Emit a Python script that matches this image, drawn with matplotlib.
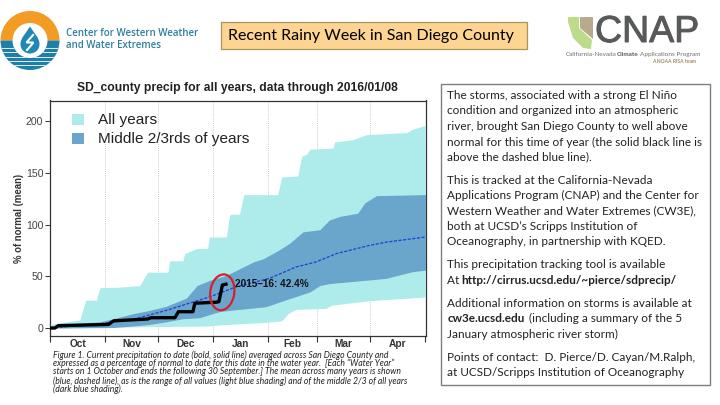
import matplotlib
matplotlib.use("Agg")
import matplotlib.pyplot as plt
import matplotlib.patheffects as pe
import numpy as np
from matplotlib.patches import Ellipse, PathPatch, Polygon, Rectangle, Wedge
from matplotlib.path import Path

# days since 1 October, values in % of normal
all_hi_day = [0, 5.4, 16.7, 20, 26, 28, 39, 50.6, 55, 66.5, 67.6, 75, 76, 83, 89, 90, 99.6, 101.6, 107, 109.6,
              128.7, 131, 140, 142.3, 145, 147, 160, 161, 171, 179, 202, 204.6, 212.4]
all_hi_val = [3.5, 5, 8, 27, 27, 39, 39.5, 41, 54, 54, 65, 65, 72, 77, 77, 88, 88, 110, 110, 129,
              129, 146, 147, 166, 168, 173, 174, 180, 182, 187, 189, 192, 196]
all_lo_day = [0, 56, 90, 96, 122, 131, 134.6, 139, 156, 159, 171, 181, 212.4]
all_lo_val = [0, 1.3, 2, 3, 5.5, 7, 14, 18, 19, 22, 24.5, 26.5, 30]
mid_hi_day = [0, 16.7, 28, 35.6, 47, 56, 65.5, 77, 83, 90, 99.7, 115, 120.5, 129, 135.5, 143, 152.5, 158, 164,
              174, 178, 184.6, 212.4]
mid_hi_val = [0, 4.5, 6, 9, 14, 17, 21, 29, 41, 46, 51, 64, 67, 75, 82, 93, 95, 104.5, 108, 111, 121, 128, 129]
mid_lo_day = [0, 35.6, 47, 56, 65.5, 75, 84.6, 92, 96, 104, 122, 132, 147, 152.5, 158, 171, 190, 205, 212.4]
mid_lo_val = [0, 0.5, 2, 3.5, 6, 9, 10, 14, 16, 17.5, 20.6, 26.5, 35, 41, 43, 45, 48, 54.5, 56]
mean_day = [0, 16.7, 28, 47, 65.5, 90, 105.5, 124, 139, 150.6, 162, 181, 190, 212.4]
mean_val = [0, 2.5, 4, 8.5, 17, 30, 40, 48, 59, 64, 72, 80, 83, 88]
now_day = [0, 2.5, 4.5, 33, 34.5, 36, 55, 57, 70.5, 72.5, 80.7, 81.8, 88, 94, 95.4, 97.4, 99.4]
now_val = [0, 0, 2.3, 3.5, 5.5, 7, 8.7, 10, 10, 15.8, 15.8, 24, 24.5, 25, 25.5, 41.6, 42.4]

month_names = ["Oct", "Nov", "Dec", "Jan", "Feb", "Mar", "Apr"]
month_starts = [0, 31, 61, 92, 123, 151, 181, 212]
y_ticks = [0, 50, 100, 150, 200]

side_lines = [
    (95.3, "The storms, associated with a strong El Niño"),
    (110.7, "condition and organized into an atmospheric"),
    (126.3, "river, brought San Diego County to well above"),
    (142, "normal for this time of year (the solid black line is"),
    (157, "above the dashed blue line)."),
    (180, "This is tracked at the California-Nevada"),
    (195.3, "Applications Program (CNAP) and the Center for"),
    (210.7, "Western Weather and Water Extremes (CW3E),"),
    (226, "both at UCSD’s Scripps Institution of"),
    (241.3, "Oceanography, in partnership with KQED."),
    (265, "This precipitation tracking tool is available"),
    (303.3, "Additional information on storms is available at"),
    (334, "January atmospheric river storm)"),
    (357.3, "Points of contact:  D. Pierce/D. Cayan/M.Ralph,"),
    (372.7, "at UCSD/Scripps Institution of Oceanography"),
]
caption_lines = [
    (355, "Figure 1. Current precipitation to date (bold, solid line) averaged across San Diego County and"),
    (363.5, "expressed as a percentage of normal to date for this date in the water year.  [Each “Water Year”"),
    (372, "starts on 1 October and ends the following 30 September.] The mean across many years is shown"),
    (381, "(blue, dashed line), as is the range of all values (light blue shading) and of the middle 2/3 of all years"),
    (389.5, "(dark blue shading)."),
]

W, H = 720, 405
fig = plt.figure(figsize=(W / 100, H / 100), dpi=100, facecolor="white")
chart_font = "Liberation Sans"
slide_font = "Lato"

# chart axes, placed in pixels
left, right, top, bottom = 49.5, 425.5, 100.5, 336
ax = fig.add_axes([left / W, 1 - bottom / H, (right - left) / W, (bottom - top) / H])

grid_days = np.linspace(0, 212.4, 1500)
light = "#aeecec"
dark = "#6aa5cb"
ax.fill_between(grid_days, np.interp(grid_days, all_lo_day, all_lo_val), np.interp(grid_days, all_hi_day, all_hi_val),
                color=light, lw=0, zorder=1)
ax.fill_between(grid_days, np.interp(grid_days, mid_lo_day, mid_lo_val), np.interp(grid_days, mid_hi_day, mid_hi_val),
                color=dark, lw=0, zorder=1.5)
ax.plot(mean_day, mean_val, color="#1f3fd8", lw=0.9, ls=(0, (2.5, 1.2)), zorder=2)
ax.plot(now_day, now_val, color="black", lw=2.4, solid_joinstyle="round", zorder=3)
ax.text(104.5, 42.5, "2015–16: 42.4%", family=chart_font, fontweight="bold", fontsize=7.2, color="#111111",
        va="center", zorder=4)

for d in month_starts[1:-1]:
    ax.axvline(d, color="#bbbbbb", lw=0.6, ls=(0, (1, 1.5)), zorder=0.5)

ax.set_xlim(-0.5, 212.4)
ax.set_ylim(-7.7, 220)
ax.set_xticks(month_starts)
ax.set_xticklabels([])
ax.set_xticks([(a + b) / 2 for a, b in zip(month_starts[:-1], month_starts[1:])], minor=True)
ax.set_xticklabels(month_names, minor=True, family=chart_font, fontweight="bold", fontsize=7.3, color="#333333")
ax.tick_params(axis="x", which="minor", length=0, pad=2)
ax.tick_params(axis="x", which="major", length=4.5, width=0.8, color="#333333")
ax.set_yticks(y_ticks)
ax.tick_params(axis="y", length=3.5, width=0.7, color="#333333", pad=1, labelsize=7.6, labelcolor="#444444")
for lab in ax.get_yticklabels():
    lab.set_family(chart_font)
for side in ax.spines.values():
    side.set_color("#333333")
    side.set_linewidth(0.9)
    side.set_zorder(0.8)
ax.spines["bottom"].set_zorder(5)
ax.set_ylabel("% of normal (mean)", family=chart_font, fontweight="bold", fontsize=6.9, color="#333333")
ax.yaxis.set_label_coords((23.5 - left) / (right - left), 0.499)

# everything else sits on a pixel overlay
ov = fig.add_axes([0, 0, 1, 1], facecolor="none", zorder=10)
ov.set_xlim(0, W)
ov.set_ylim(H, 0)
ov.axis("off")

ov.text(237, 88, "SD_county precip for all years, data through 2016/01/08", family=chart_font,
        fontweight="bold", fontsize=8.7, color="#222222", ha="center", va="center")

ov.add_patch(Rectangle((72, 114), 12, 11, fc=light, ec="none"))
ov.add_patch(Rectangle((72, 133), 12, 11, fc=dark, ec="none"))
ov.text(98, 120, "All years", family=chart_font, fontsize=11.1, color="#222222", va="center")
ov.text(98, 139, "Middle 2/3rds of years", family=chart_font, fontsize=11.1, color="#222222", va="center")

ov.add_patch(Ellipse((222.3, 292.3), 24, 36, angle=8, fc="none", ec="#d8202a", lw=1.6))

for y, line in caption_lines:
    ov.text(53.3, y, line, family=slide_font, style="italic", fontsize=6.2, color="#222222", va="center")

# headline box
ov.add_patch(Rectangle((221, 22.3), 306, 27, fc="#fdd491", ec="#a8965e", lw=0.9))
ov.text(227.5, 36, "Recent Rainy Week in San Diego County", family=slide_font, fontsize=11.55, color="black", va="center")

# side text box
ov.add_patch(Rectangle((441, 84.3), 269, 300.7, fc="white", ec="#7f7f7f", lw=1))
for y, line in side_lines:
    ov.text(447.3, y, line, family=slide_font, fontsize=8.5, color="#222222", va="center")
ov.text(447.3, 280, "At ", family=slide_font, fontsize=8.5, color="#222222", va="center")
ov.text(461.7, 280, "http://cirrus.ucsd.edu/~pierce/sdprecip/", family=slide_font, fontweight="bold", fontsize=8.5,
        color="#222222", va="center")
ov.text(447.3, 318.7, "cw3e.ucsd.edu", family=slide_font, fontweight="bold", fontsize=8.5, color="#222222", va="center")
ov.text(529, 318.7, "(including a summary of the 5", family=slide_font, fontsize=8.5, color="#222222", va="center")

# left logo
cx, cy = 30, 40.5
ov.add_patch(Wedge((cx, cy), 29.5, 180, 360, width=12, fc="#f39c25", ec="none"))
blue_half = Wedge((cx, cy), 29.5, 0, 180, width=12, fc="#1f7fa6", ec="none")
ov.add_patch(blue_half)
for y in [47.5, 52, 56.5, 61, 65]:
    stripe, = ov.plot([0, 60], [y, y], color="white", lw=0.6)
    stripe.set_clip_path(blue_half)
drop = Path([(30, 26.5), (26, 33), (20.5, 38), (20.5, 44), (20.5, 50), (25, 53.5), (30, 53.5), (35, 53.5), (39.5, 50),
             (39.5, 44), (39.5, 38), (34, 33), (30, 26.5)],
            [Path.MOVETO] + [Path.CURVE4] * 12)
ov.add_patch(PathPatch(drop, fc="#1f88b4", ec="none"))
ov.plot([33, 26.5, 33.5, 27], [35, 42.5, 42.5, 50], color="white", lw=1.5, solid_joinstyle="miter")
ov.text(66, 33.5, "Center for Western Weather", family="Open Sans", fontweight="semibold", fontsize=7.0, color="#2f7f9f",
        va="center")
ov.text(66, 45, "and Water Extremes", family="Open Sans", fontweight="semibold", fontsize=7.0, color="#2f7f9f",
        va="center")

# right logo
ov.add_patch(Polygon([(568, 17), (579, 17), (579, 28), (592, 40), (591, 49), (583, 48), (573, 38), (568, 22)],
                     fc="#bcdc8c", ec="none"))
ov.add_patch(Polygon([(580, 17), (593, 17), (593, 39), (580, 28)], fc="#b8ab8c", ec="none"))
ov.text(595, 32, "CNAP", family=chart_font, fontsize=27, color="#58595b", va="center",
        path_effects=[pe.withStroke(linewidth=0.7, foreground="#58595b")])
ov.text(565.5, 54.3, "California-Nevada", family=slide_font, fontsize=4.6, color="#6d6e70", va="center")
ov.text(616.5, 54.3, "Climate", family=slide_font, fontweight="bold", fontsize=4.6, color="#58595b", va="center")
ov.text(640.5, 54.3, "Applications Program", family=slide_font, fontsize=4.6, color="#6d6e70", va="center")
ov.text(652, 61.3, "A NOAA RISA team", family=slide_font, fontweight="bold", fontsize=3.6, color="#a08a60", va="center")

fig.savefig("out.png", dpi=100)
